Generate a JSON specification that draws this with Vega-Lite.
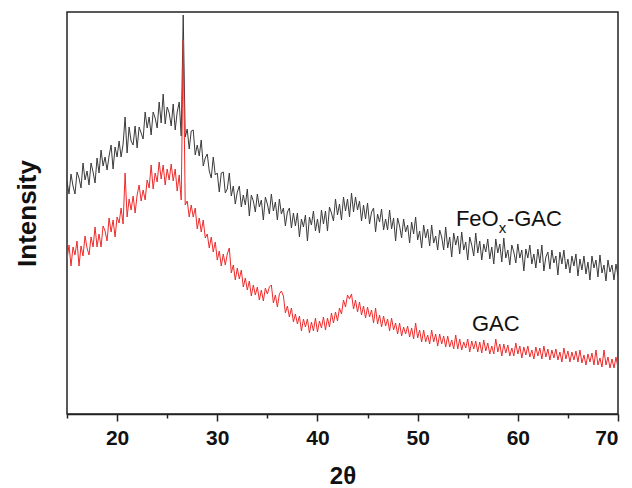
{
"$schema":"https://vega.github.io/schema/vega-lite/v6.json",
"autosize":"none",
"width":551,"height":402,
"padding":{"left":67,"top":12,"right":14,"bottom":74},
"background":"white",
"config":{"view":{"stroke":"#222","strokeWidth":1.5}},
"datasets":{
"feox":[
{"t":15.0,"i":233},{"t":15.2,"i":220},{"t":15.4,"i":240},{"t":15.6,"i":228},{"t":15.8,"i":220},{"t":16.0,"i":242},{"t":16.2,"i":236},{"t":16.4,"i":226},{"t":16.6,"i":251},{"t":16.8,"i":234},
{"t":17.0,"i":243},{"t":17.2,"i":229},{"t":17.4,"i":251},{"t":17.6,"i":242},{"t":17.8,"i":231},{"t":18.0,"i":256},{"t":18.2,"i":241},{"t":18.4,"i":264},{"t":18.6,"i":248},{"t":18.8,"i":257},
{"t":19.0,"i":244},{"t":19.2,"i":258},{"t":19.4,"i":269},{"t":19.6,"i":245},{"t":19.8,"i":267},{"t":20.0,"i":257},{"t":20.2,"i":273},{"t":20.4,"i":257},{"t":20.6,"i":270},{"t":20.8,"i":297},
{"t":21.0,"i":261},{"t":21.2,"i":287},{"t":21.4,"i":273},{"t":21.6,"i":269},{"t":21.8,"i":288},{"t":22.0,"i":266},{"t":22.2,"i":287},{"t":22.4,"i":281},{"t":22.6,"i":275},{"t":22.8,"i":302},
{"t":23.0,"i":286},{"t":23.2,"i":297},{"t":23.4,"i":279},{"t":23.6,"i":302},{"t":23.8,"i":296},{"t":24.0,"i":286},{"t":24.2,"i":312},{"t":24.4,"i":291},{"t":24.6,"i":320},{"t":24.8,"i":290},
{"t":25.0,"i":307},{"t":25.2,"i":301},{"t":25.4,"i":288},{"t":25.6,"i":310},{"t":25.8,"i":284},{"t":26.0,"i":302},{"t":26.2,"i":312},{"t":26.4,"i":278},{"t":26.6,"i":399},{"t":26.8,"i":277},
{"t":27.0,"i":285},{"t":27.2,"i":265},{"t":27.4,"i":283},{"t":27.6,"i":284},{"t":27.8,"i":259},{"t":28.0,"i":269},{"t":28.2,"i":258},{"t":28.4,"i":274},{"t":28.6,"i":248},{"t":28.8,"i":256},
{"t":29.0,"i":260},{"t":29.2,"i":243},{"t":29.4,"i":236},{"t":29.6,"i":257},{"t":29.8,"i":239},{"t":30.0,"i":241},{"t":30.2,"i":222},{"t":30.4,"i":241},{"t":30.6,"i":242},{"t":30.8,"i":221},
{"t":31.0,"i":225},{"t":31.2,"i":241},{"t":31.4,"i":218},{"t":31.6,"i":228},{"t":31.8,"i":210},{"t":32.0,"i":222},{"t":32.2,"i":228},{"t":32.4,"i":207},{"t":32.6,"i":219},{"t":32.8,"i":209},
{"t":33.0,"i":225},{"t":33.2,"i":198},{"t":33.4,"i":219},{"t":33.6,"i":213},{"t":33.8,"i":202},{"t":34.0,"i":220},{"t":34.2,"i":207},{"t":34.4,"i":214},{"t":34.6,"i":194},{"t":34.8,"i":217},
{"t":35.0,"i":210},{"t":35.2,"i":200},{"t":35.4,"i":220},{"t":35.6,"i":203},{"t":35.8,"i":212},{"t":36.0,"i":194},{"t":36.2,"i":215},{"t":36.4,"i":200},{"t":36.6,"i":206},{"t":36.8,"i":188},
{"t":37.0,"i":202},{"t":37.2,"i":206},{"t":37.4,"i":186},{"t":37.6,"i":201},{"t":37.8,"i":188},{"t":38.0,"i":201},{"t":38.2,"i":177},{"t":38.4,"i":195},{"t":38.6,"i":187},{"t":38.8,"i":199},
{"t":39.0,"i":173},{"t":39.2,"i":197},{"t":39.4,"i":189},{"t":39.6,"i":203},{"t":39.8,"i":183},{"t":40.0,"i":195},{"t":40.2,"i":181},{"t":40.4,"i":204},{"t":40.6,"i":190},{"t":40.8,"i":203},
{"t":41.0,"i":183},{"t":41.2,"i":207},{"t":41.4,"i":201},{"t":41.6,"i":193},{"t":41.8,"i":215},{"t":42.0,"i":199},{"t":42.2,"i":210},{"t":42.4,"i":194},{"t":42.6,"i":217},{"t":42.8,"i":203},
{"t":43.0,"i":215},{"t":43.2,"i":197},{"t":43.4,"i":221},{"t":43.6,"i":202},{"t":43.8,"i":217},{"t":44.0,"i":204},{"t":44.2,"i":213},{"t":44.4,"i":193},{"t":44.6,"i":209},{"t":44.8,"i":195},
{"t":45.0,"i":211},{"t":45.2,"i":190},{"t":45.4,"i":202},{"t":45.6,"i":206},{"t":45.8,"i":182},{"t":46.0,"i":200},{"t":46.2,"i":192},{"t":46.4,"i":205},{"t":46.6,"i":184},{"t":46.8,"i":195},
{"t":47.0,"i":184},{"t":47.2,"i":204},{"t":47.4,"i":185},{"t":47.6,"i":196},{"t":47.8,"i":173},{"t":48.0,"i":196},{"t":48.2,"i":188},{"t":48.4,"i":176},{"t":48.6,"i":195},{"t":48.8,"i":182},
{"t":49.0,"i":189},{"t":49.2,"i":171},{"t":49.4,"i":192},{"t":49.6,"i":180},{"t":49.8,"i":197},{"t":50.0,"i":174},{"t":50.2,"i":183},{"t":50.4,"i":166},{"t":50.6,"i":189},{"t":50.8,"i":176},
{"t":51.0,"i":185},{"t":51.2,"i":168},{"t":51.4,"i":189},{"t":51.6,"i":171},{"t":51.8,"i":178},{"t":52.0,"i":164},{"t":52.2,"i":184},{"t":52.4,"i":177},{"t":52.6,"i":164},{"t":52.8,"i":187},
{"t":53.0,"i":166},{"t":53.2,"i":177},{"t":53.4,"i":157},{"t":53.6,"i":181},{"t":53.8,"i":169},{"t":54.0,"i":178},{"t":54.2,"i":160},{"t":54.4,"i":182},{"t":54.6,"i":164},{"t":54.8,"i":172},
{"t":55.0,"i":154},{"t":55.2,"i":177},{"t":55.4,"i":169},{"t":55.6,"i":158},{"t":55.8,"i":181},{"t":56.0,"i":161},{"t":56.2,"i":173},{"t":56.4,"i":154},{"t":56.6,"i":170},{"t":56.8,"i":162},
{"t":57.0,"i":175},{"t":57.2,"i":155},{"t":57.4,"i":167},{"t":57.6,"i":150},{"t":57.8,"i":175},{"t":58.0,"i":161},{"t":58.2,"i":170},{"t":58.4,"i":152},{"t":58.6,"i":176},{"t":58.8,"i":156},
{"t":59.0,"i":164},{"t":59.2,"i":149},{"t":59.4,"i":169},{"t":59.6,"i":162},{"t":59.8,"i":151},{"t":60.0,"i":170},{"t":60.2,"i":156},{"t":60.4,"i":164},{"t":60.6,"i":143},{"t":60.8,"i":165},
{"t":61.0,"i":156},{"t":61.2,"i":169},{"t":61.4,"i":150},{"t":61.6,"i":160},{"t":61.8,"i":146},{"t":62.0,"i":165},{"t":62.2,"i":151},{"t":62.4,"i":169},{"t":62.6,"i":143},{"t":62.8,"i":157},
{"t":63.0,"i":162},{"t":63.2,"i":145},{"t":63.4,"i":164},{"t":63.6,"i":151},{"t":63.8,"i":158},{"t":64.0,"i":139},{"t":64.2,"i":162},{"t":64.4,"i":150},{"t":64.6,"i":164},{"t":64.8,"i":145},
{"t":65.0,"i":155},{"t":65.2,"i":141},{"t":65.4,"i":158},{"t":65.6,"i":148},{"t":65.8,"i":160},{"t":66.0,"i":138},{"t":66.2,"i":155},{"t":66.4,"i":144},{"t":66.6,"i":158},{"t":66.8,"i":140},
{"t":67.0,"i":152},{"t":67.2,"i":134},{"t":67.4,"i":158},{"t":67.6,"i":146},{"t":67.8,"i":154},{"t":68.0,"i":137},{"t":68.2,"i":159},{"t":68.4,"i":141},{"t":68.6,"i":149},{"t":68.8,"i":133},
{"t":69.0,"i":154},{"t":69.2,"i":142},{"t":69.4,"i":149},{"t":69.6,"i":134},{"t":69.8,"i":150},{"t":70.0,"i":138}
],
"gac":[
{"t":15.0,"i":154},{"t":15.2,"i":169},{"t":15.4,"i":148},{"t":15.6,"i":167},{"t":15.8,"i":159},{"t":16.0,"i":173},{"t":16.2,"i":148},{"t":16.4,"i":168},{"t":16.6,"i":158},{"t":16.8,"i":178},
{"t":17.0,"i":166},{"t":17.2,"i":159},{"t":17.4,"i":177},{"t":17.6,"i":167},{"t":17.8,"i":187},{"t":18.0,"i":167},{"t":18.2,"i":180},{"t":18.4,"i":167},{"t":18.6,"i":188},{"t":18.8,"i":183},
{"t":19.0,"i":173},{"t":19.2,"i":196},{"t":19.4,"i":182},{"t":19.6,"i":194},{"t":19.8,"i":177},{"t":20.0,"i":197},{"t":20.2,"i":191},{"t":20.4,"i":206},{"t":20.6,"i":190},{"t":20.8,"i":241},
{"t":21.0,"i":197},{"t":21.2,"i":215},{"t":21.4,"i":204},{"t":21.6,"i":218},{"t":21.8,"i":201},{"t":22.0,"i":219},{"t":22.2,"i":229},{"t":22.4,"i":213},{"t":22.6,"i":224},{"t":22.8,"i":214},
{"t":23.0,"i":234},{"t":23.2,"i":226},{"t":23.4,"i":249},{"t":23.6,"i":225},{"t":23.8,"i":241},{"t":24.0,"i":232},{"t":24.2,"i":252},{"t":24.4,"i":235},{"t":24.6,"i":249},{"t":24.8,"i":229},
{"t":25.0,"i":245},{"t":25.2,"i":234},{"t":25.4,"i":250},{"t":25.6,"i":233},{"t":25.8,"i":245},{"t":26.0,"i":223},{"t":26.2,"i":239},{"t":26.4,"i":214},{"t":26.6,"i":374},{"t":26.8,"i":209},
{"t":27.0,"i":213},{"t":27.2,"i":197},{"t":27.4,"i":209},{"t":27.6,"i":197},{"t":27.8,"i":206},{"t":28.0,"i":185},{"t":28.2,"i":196},{"t":28.4,"i":182},{"t":28.6,"i":194},{"t":28.8,"i":176},
{"t":29.0,"i":180},{"t":29.2,"i":166},{"t":29.4,"i":177},{"t":29.6,"i":162},{"t":29.8,"i":172},{"t":30.0,"i":154},{"t":30.2,"i":163},{"t":30.4,"i":148},{"t":30.6,"i":160},{"t":30.8,"i":149},
{"t":31.0,"i":160},{"t":31.2,"i":166},{"t":31.4,"i":141},{"t":31.6,"i":149},{"t":31.8,"i":134},{"t":32.0,"i":146},{"t":32.2,"i":135},{"t":32.4,"i":144},{"t":32.6,"i":127},{"t":32.8,"i":136},
{"t":33.0,"i":124},{"t":33.2,"i":133},{"t":33.4,"i":118},{"t":33.6,"i":129},{"t":33.8,"i":119},{"t":34.0,"i":127},{"t":34.2,"i":114},{"t":34.4,"i":124},{"t":34.6,"i":113},{"t":34.8,"i":126},
{"t":35.0,"i":120},{"t":35.2,"i":127},{"t":35.4,"i":129},{"t":35.6,"i":111},{"t":35.8,"i":119},{"t":36.0,"i":107},{"t":36.2,"i":120},{"t":36.4,"i":123},{"t":36.6,"i":118},{"t":36.8,"i":101},
{"t":37.0,"i":108},{"t":37.2,"i":97},{"t":37.4,"i":106},{"t":37.6,"i":92},{"t":37.8,"i":100},{"t":38.0,"i":90},{"t":38.2,"i":98},{"t":38.4,"i":83},{"t":38.6,"i":95},{"t":38.8,"i":87},
{"t":39.0,"i":95},{"t":39.2,"i":81},{"t":39.4,"i":92},{"t":39.6,"i":83},{"t":39.8,"i":96},{"t":40.0,"i":82},{"t":40.2,"i":93},{"t":40.4,"i":86},{"t":40.6,"i":97},{"t":40.8,"i":84},
{"t":41.0,"i":96},{"t":41.2,"i":87},{"t":41.4,"i":101},{"t":41.6,"i":91},{"t":41.8,"i":102},{"t":42.0,"i":93},{"t":42.2,"i":106},{"t":42.4,"i":100},{"t":42.6,"i":114},{"t":42.8,"i":107},
{"t":43.0,"i":119},{"t":43.2,"i":115},{"t":43.4,"i":120},{"t":43.6,"i":105},{"t":43.8,"i":114},{"t":44.0,"i":102},{"t":44.2,"i":112},{"t":44.4,"i":99},{"t":44.6,"i":108},{"t":44.8,"i":96},
{"t":45.0,"i":107},{"t":45.2,"i":97},{"t":45.4,"i":104},{"t":45.6,"i":91},{"t":45.8,"i":106},{"t":46.0,"i":90},{"t":46.2,"i":99},{"t":46.4,"i":87},{"t":46.6,"i":98},{"t":46.8,"i":88},
{"t":47.0,"i":95},{"t":47.2,"i":83},{"t":47.4,"i":96},{"t":47.6,"i":84},{"t":47.8,"i":91},{"t":48.0,"i":80},{"t":48.2,"i":91},{"t":48.4,"i":78},{"t":48.6,"i":87},{"t":48.8,"i":80},
{"t":49.0,"i":88},{"t":49.2,"i":77},{"t":49.4,"i":86},{"t":49.6,"i":75},{"t":49.8,"i":91},{"t":50.0,"i":76},{"t":50.2,"i":84},{"t":50.4,"i":72},{"t":50.6,"i":84},{"t":50.8,"i":72},
{"t":51.0,"i":79},{"t":51.2,"i":70},{"t":51.4,"i":84},{"t":51.6,"i":72},{"t":51.8,"i":80},{"t":52.0,"i":68},{"t":52.2,"i":80},{"t":52.4,"i":70},{"t":52.6,"i":78},{"t":52.8,"i":67},
{"t":53.0,"i":78},{"t":53.2,"i":67},{"t":53.4,"i":74},{"t":53.6,"i":65},{"t":53.8,"i":79},{"t":54.0,"i":65},{"t":54.2,"i":75},{"t":54.4,"i":64},{"t":54.6,"i":72},{"t":54.8,"i":66},
{"t":55.0,"i":75},{"t":55.2,"i":62},{"t":55.4,"i":73},{"t":55.6,"i":65},{"t":55.8,"i":73},{"t":56.0,"i":62},{"t":56.2,"i":72},{"t":56.4,"i":61},{"t":56.6,"i":74},{"t":56.8,"i":63},
{"t":57.0,"i":71},{"t":57.2,"i":60},{"t":57.4,"i":68},{"t":57.6,"i":60},{"t":57.8,"i":75},{"t":58.0,"i":62},{"t":58.2,"i":70},{"t":58.4,"i":58},{"t":58.6,"i":70},{"t":58.8,"i":61},
{"t":59.0,"i":69},{"t":59.2,"i":58},{"t":59.4,"i":66},{"t":59.6,"i":58},{"t":59.8,"i":71},{"t":60.0,"i":60},{"t":60.2,"i":68},{"t":60.4,"i":56},{"t":60.6,"i":67},{"t":60.8,"i":59},
{"t":61.0,"i":68},{"t":61.2,"i":57},{"t":61.4,"i":64},{"t":61.6,"i":55},{"t":61.8,"i":67},{"t":62.0,"i":58},{"t":62.2,"i":66},{"t":62.4,"i":55},{"t":62.6,"i":68},{"t":62.8,"i":57},
{"t":63.0,"i":65},{"t":63.2,"i":54},{"t":63.4,"i":64},{"t":63.6,"i":56},{"t":63.8,"i":65},{"t":64.0,"i":54},{"t":64.2,"i":62},{"t":64.4,"i":52},{"t":64.6,"i":66},{"t":64.8,"i":55},
{"t":65.0,"i":63},{"t":65.2,"i":52},{"t":65.4,"i":62},{"t":65.6,"i":54},{"t":65.8,"i":63},{"t":66.0,"i":52},{"t":66.2,"i":64},{"t":66.4,"i":51},{"t":66.6,"i":59},{"t":66.8,"i":49},
{"t":67.0,"i":60},{"t":67.2,"i":52},{"t":67.4,"i":61},{"t":67.6,"i":49},{"t":67.8,"i":64},{"t":68.0,"i":49},{"t":68.2,"i":56},{"t":68.4,"i":47},{"t":68.6,"i":64},{"t":68.8,"i":49},
{"t":69.0,"i":57},{"t":69.2,"i":46},{"t":69.4,"i":55},{"t":69.6,"i":46},{"t":69.8,"i":57},{"t":70.0,"i":46}
],
"lbl_main":[{"t":53.82,"i":188,"label":"FeO"},{"t":58.91,"i":188,"label":"-GAC"},{"t":55.42,"i":83,"label":"GAC"}],
"lbl_sub":[{"t":58.1,"i":181,"label":"x"}]
},
"layer":[
{"data":{"name":"feox"},"mark":{"type":"line","color":"#3a3a3a","strokeWidth":1,"clip":true},
 "encoding":{
  "x":{"field":"t","type":"quantitative","scale":{"domain":[15,70],"nice":false,"zero":false},
   "axis":{"values":[15,20,25,30,35,40,45,50,55,60,65,70],"labelExpr":"datum.value % 10 === 0 ? datum.label : ''",
    "tickSize":{"condition":{"test":"datum.value % 10 === 0","value":7},"value":4},
    "tickColor":"#222","tickWidth":1.5,"domainColor":"#222","domainWidth":1.5,"grid":false,
    "labelFont":"Liberation Sans","labelFontWeight":"bold","labelFontSize":21,"labelColor":"#111","labelPadding":6,
    "title":"2θ","titleFont":"Liberation Sans","titleFontWeight":"bold","titleFontSize":24,"titleColor":"#111","titlePadding":16}},
  "y":{"field":"i","type":"quantitative","scale":{"domain":[0,402],"nice":false,"zero":false},
   "axis":{"labels":false,"ticks":false,"domain":false,"grid":false,"title":"Intensity","titleFont":"Liberation Sans","titleFontWeight":"bold","titleFontSize":26,"titleColor":"#111","titlePadding":27}}
 }},
{"data":{"name":"gac"},"mark":{"type":"line","color":"#ee2b2b","strokeWidth":1,"clip":true},
 "encoding":{"x":{"field":"t","type":"quantitative"},"y":{"field":"i","type":"quantitative"}}},
{"data":{"name":"lbl_main"},"mark":{"type":"text","align":"left","baseline":"alphabetic","font":"Liberation Sans","fontSize":22,"color":"#111"},
 "encoding":{"x":{"field":"t","type":"quantitative"},"y":{"field":"i","type":"quantitative"},"text":{"field":"label"}}},
{"data":{"name":"lbl_sub"},"mark":{"type":"text","align":"left","baseline":"alphabetic","font":"Liberation Sans","fontSize":15,"color":"#111"},
 "encoding":{"x":{"field":"t","type":"quantitative"},"y":{"field":"i","type":"quantitative"},"text":{"field":"label"}}}
]
}
